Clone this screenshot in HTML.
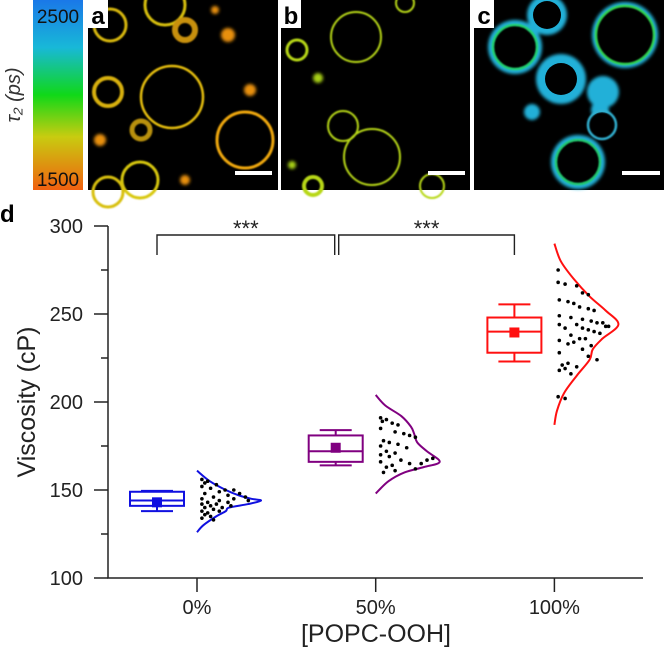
<!DOCTYPE html>
<html><head><meta charset="utf-8">
<style>
body{margin:0;background:#fff;width:664px;height:648px;overflow:hidden;font-family:"Liberation Sans",Arial,sans-serif}
svg text{font-family:"Liberation Sans",Arial,sans-serif}
</style></head><body>
<svg id="fig" width="664" height="648" viewBox="0 0 664 648" xmlns="http://www.w3.org/2000/svg">
<defs>
<linearGradient id="cb" x1="0" y1="0" x2="0" y2="1">
<stop offset="0" stop-color="#1a78e8"/><stop offset="0.25" stop-color="#18b8d8"/>
<stop offset="0.5" stop-color="#10d818"/><stop offset="0.72" stop-color="#c8cc10"/>
<stop offset="1" stop-color="#f06010"/></linearGradient>
<filter id="bl"><feGaussianBlur stdDeviation="0.8"/></filter>
<filter id="bl2"><feGaussianBlur stdDeviation="1.5"/></filter>
</defs>
<g>
<rect x="33" y="0" width="50" height="190" fill="url(#cb)"/>
<text x="58" y="23" font-size="19" text-anchor="middle" fill="#111">2500</text>
<text x="58" y="186" font-size="19" text-anchor="middle" fill="#111">1500</text>
<text transform="translate(20,95) rotate(-90)" font-size="20" text-anchor="middle" font-family="Liberation Serif" font-style="italic" fill="#333">τ₂ (ps)</text>
</g>
<g>
<rect x="88" y="0" width="190" height="190" fill="#000"/>
<g fill="none" filter="url(#bl)" stroke-width="3">
<circle cx="172" cy="97" r="31" stroke="#e8c010" stroke-width="2.5"/>
<circle cx="245" cy="140" r="28" stroke="#f0a810"/>
<circle cx="165" cy="5" r="20" stroke="#d8c010"/>
<circle cx="110" cy="25" r="16" stroke="#d8b810"/>
<circle cx="108" cy="92" r="14" stroke="#d8b010" stroke-width="4"/>
<circle cx="140" cy="180" r="18" stroke="#d8c810"/>
<circle cx="108" cy="192" r="15" stroke="#d8c010"/>
<circle cx="141" cy="130" r="9" stroke="#b89010" stroke-width="5"/>
<circle cx="185" cy="30" r="10" stroke="#c89010" stroke-width="6"/>
</g>
<g filter="url(#bl2)" fill="#e89010"><circle cx="228" cy="35" r="7"/><circle cx="250" cy="90" r="6"/><circle cx="100" cy="140" r="6"/><circle cx="215" cy="10" r="4"/><circle cx="185" cy="180" r="5"/></g>
<rect x="88" y="0" width="20" height="28" fill="#fff"/>
<text x="98" y="24" font-size="24" font-weight="bold" text-anchor="middle">a</text>
<rect x="235" y="171" width="37" height="4" fill="#fff"/>
</g>
<g>
<rect x="281" y="0" width="189" height="190" fill="#000"/>
<g fill="none" filter="url(#bl)" stroke="#b8d818" stroke-width="2">
<circle cx="356" cy="37" r="25"/><circle cx="372" cy="157" r="28"/>
<circle cx="343" cy="126" r="15"/><circle cx="297" cy="50" r="10" stroke-width="3"/>
<circle cx="313" cy="186" r="9" stroke-width="4"/><circle cx="432" cy="186" r="12"/>
<circle cx="405" cy="3" r="9"/></g>
<g filter="url(#bl2)" fill="#a8d018"><circle cx="318" cy="78" r="5"/><circle cx="292" cy="165" r="4"/></g>
<rect x="281" y="0" width="20" height="28" fill="#fff"/>
<text x="291" y="24" font-size="24" font-weight="bold" text-anchor="middle">b</text>
<rect x="428" y="171" width="37" height="4" fill="#fff"/>
</g>
<g>
<rect x="474" y="0" width="190" height="190" fill="#000"/>
<g filter="url(#bl2)" fill="#20b0d8"><circle cx="603" cy="92" r="16"/><circle cx="561" cy="79" r="25"/><circle cx="515" cy="47" r="27"/><circle cx="578" cy="162" r="27"/><circle cx="547" cy="15" r="20"/><circle cx="625" cy="35" r="33"/><circle cx="532" cy="112" r="8"/><circle cx="600" cy="110" r="9"/></g>
<g fill="#000"><circle cx="515" cy="47" r="22"/><circle cx="561" cy="79" r="16"/><circle cx="578" cy="162" r="22"/><circle cx="625" cy="35" r="29"/><circle cx="547" cy="15" r="14"/><circle cx="602" cy="125" r="13"/></g>
<g fill="none" filter="url(#bl)" stroke-width="2.5">
<circle cx="515" cy="47" r="22" stroke="#20d070"/><circle cx="625" cy="35" r="29" stroke="#30d050"/>
<circle cx="578" cy="162" r="22" stroke="#20c870"/><circle cx="602" cy="125" r="14" stroke="#30b0d0"/></g>
<rect x="474" y="0" width="20" height="28" fill="#fff"/>
<text x="484" y="24" font-size="24" font-weight="bold" text-anchor="middle">c</text>
<rect x="622" y="171" width="38" height="4" fill="#fff"/>
</g>
<text x="0" y="222" font-size="24" font-weight="bold">d</text>
<g id="chart"></g>
</svg>
<script>
const categories = ["0%", "50%", "100%"];
const colors = ["#1010e0", "#800080", "#ff1010"];
const yTicks = [100, 150, 200, 250, 300];
const whiskerLow = [138, 164, 223];
const boxLow = [141, 166, 228];
const medians = [144, 172, 240];
const boxHigh = [149, 181, 248];
const whiskerHigh = [149.5, 184, 255.5];
const means = [143, 174, 239.5];
const dens0Vals = [161,155,150,147,145,144,142,140,138,135,130,126];
const dens0W = [0,0.2,0.45,0.65,0.85,1.0,0.8,0.5,0.45,0.3,0.1,0];
const dens1Vals = [204,198,192,186,182,177,172,166,163,160,155,148];
const dens1W = [0,0.15,0.4,0.55,0.6,0.65,0.8,1.0,0.75,0.45,0.2,0];
const dens2Vals = [290,280,270,260,252,244,236,230,224,215,205,195,187];
const dens2W = [0,0.1,0.3,0.55,0.8,1.0,0.75,0.6,0.55,0.35,0.15,0.04,0];
const dots0Vals = [156,155,154,153,152,151,150,150,149,148,148,147,146,146,145,145,144,144,143,143,142,142,141,141,140,140,139,138,138,137,136,135,134,133];
const dots0J = [0.05,0.15,0.1,0.3,0.05,0.2,0.45,0.6,0.35,0.1,0.7,0.5,0.25,0.8,0.05,0.6,0.35,0.85,0.15,0.5,0.05,0.3,0.2,0.55,0.1,0.4,0.25,0.05,0.35,0.15,0.1,0.2,0.05,0.25];
const dots1Vals = [191,190,189,188,187,185,183,182,181,180,178,177,176,175,174,172,171,170,169,168,167,167,166,165,165,164,163,162,161,160];
const dots1J = [0.05,0.15,0.08,0.25,0.35,0.05,0.3,0.45,0.55,0.65,0.1,0.2,0.35,0.05,0.5,0.15,0.3,0.05,0.2,0.95,0.4,0.85,0.05,0.55,0.75,0.25,0.15,0.65,0.3,0.1];
const dots2Vals = [275,268,267,266,262,261,258,257,256,254,253,252,249,248,247,246,245,245,244,244,243,243,242,242,241,240,239,238,236,236,235,234,233,232,230,228,226,224,222,221,220,219,218,216,203,202];
const dots2J = [0.03,0.03,0.15,0.35,0.45,0.55,0.05,0.2,0.3,0.4,0.55,0.65,0.05,0.25,0.45,0.6,0.7,0.8,0.05,0.35,0.85,0.9,0.15,0.45,0.55,0.65,0.75,0.25,0.4,0.5,0.05,0.3,0.2,0.6,0.45,0.05,0.55,0.7,0.2,0.1,0.35,0.15,0.05,0.25,0.03,0.15];

const densVals = [dens0Vals, dens1Vals, dens2Vals];
const densW = [dens0W, dens1W, dens2W];
const dotVals = [dots0Vals, dots1Vals, dots2Vals];
const dotJ = [dots0J, dots1J, dots2J];

const NS = "http://www.w3.org/2000/svg";
const g = document.getElementById("chart");
const X0 = 108, X1 = 643, Y0 = 578, Y1 = 226;
const yScale = v => Y0 - (v - 100) / 200 * (Y0 - Y1);
const xCat = i => 197 + i * 178.7;
function mk(tag, attrs, parent) {
  const e = document.createElementNS(NS, tag);
  for (const k in attrs) e.setAttribute(k, attrs[k]);
  (parent || g).appendChild(e);
  return e;
}
const ax = mk("path", {d: `M${X0},${Y1} V${Y0} H${X1}`, fill: "none", stroke: "#222", "stroke-width": 1.5});


yTicks.forEach(v => {
  const y = yScale(v);
  const t = mk("line", {x1: X0 - 14, x2: X0, y1: y, y2: y, stroke: "#222", "stroke-width": 1.5});
  
  
  const l = mk("text", {x: 83, y: y + 7, "font-size": 20, "text-anchor": "end", fill: "#222"});
  l.textContent = v;
  
  
  if (v < 300) {
    const m = mk("line", {x1: X0 - 7, x2: X0, y1: yScale(v + 25), y2: yScale(v + 25), stroke: "#222", "stroke-width": 1.5});
    
    
  }
});
categories.forEach((c, i) => {
  const x = xCat(i);
  const t = mk("line", {x1: x, x2: x, y1: Y0, y2: Y0 + 14, stroke: "#222", "stroke-width": 1.5});
  
  
  const l = mk("text", {x: x, y: Y0 + 36, "font-size": 20, "text-anchor": "middle", fill: "#222"});
  l.textContent = c;
  
  
});
const yt = mk("text", {transform: "translate(35,402) rotate(-90)", "font-size": 25, "text-anchor": "middle", fill: "#222"});
yt.textContent = "Viscosity (cP)";


const xt = mk("text", {x: 376, y: 642, "font-size": 25, "text-anchor": "middle", fill: "#222"});
xt.textContent = "[POPC-OOH]";



function smooth(pts) {
  let d = `M${pts[0][0]},${pts[0][1]}`;
  for (let i = 0; i < pts.length - 1; i++) {
    const p0 = pts[Math.max(0, i - 1)], p1 = pts[i], p2 = pts[i + 1], p3 = pts[Math.min(pts.length - 1, i + 2)];
    const c1 = [p1[0] + (p2[0] - p0[0]) / 6, p1[1] + (p2[1] - p0[1]) / 6];
    const c2 = [p2[0] - (p3[0] - p1[0]) / 6, p2[1] - (p3[1] - p1[1]) / 6];
    d += ` C${c1[0]},${c1[1]} ${c2[0]},${c2[1]} ${p2[0]},${p2[1]}`;
  }
  return d;
}
categories.forEach((c, i) => {
  const col = colors[i];
  const cx = xCat(i) - 40, hw = 27;
  const grp = mk("g", {});
  
  
  const sw = {stroke: col, "stroke-width": 2, fill: "none"};
  mk("line", Object.assign({x1: cx, x2: cx, y1: yScale(whiskerHigh[i]), y2: yScale(boxHigh[i])}, sw), grp);
  mk("line", Object.assign({x1: cx, x2: cx, y1: yScale(boxLow[i]), y2: yScale(whiskerLow[i])}, sw), grp);
  mk("line", Object.assign({x1: cx - 16, x2: cx + 16, y1: yScale(whiskerHigh[i]), y2: yScale(whiskerHigh[i])}, sw), grp);
  mk("line", Object.assign({x1: cx - 16, x2: cx + 16, y1: yScale(whiskerLow[i]), y2: yScale(whiskerLow[i])}, sw), grp);
  mk("rect", Object.assign({x: cx - hw, y: yScale(boxHigh[i]), width: 2 * hw, height: yScale(boxLow[i]) - yScale(boxHigh[i])}, sw), grp);
  mk("line", Object.assign({x1: cx - hw, x2: cx + hw, y1: yScale(medians[i]), y2: yScale(medians[i])}, sw), grp);
  const mm = mk("rect", {x: cx - 5, y: yScale(means[i]) - 5, width: 10, height: 10, fill: col}, grp);
  
  
  const bx = xCat(i);
  const pts = densVals[i].map((v, k) => [bx + densW[i][k] * 64, yScale(v)]);
  const dp = mk("path", {d: smooth(pts), fill: "none", stroke: col, "stroke-width": 2});
  
  
  dotVals[i].forEach((v, k) => {
    const d = mk("circle", {cx: bx + 2 + dotJ[i][k] * 58, cy: yScale(v), r: 1.8, fill: "#000"});
    
    
  });
});
function bracket(xa, xb, name) {
  const y = 235;
  const p = mk("path", {d: `M${xa},255 V${y} H${xb} V255`, fill: "none", stroke: "#222", "stroke-width": 1.4});
  
  
  const s = mk("text", {x: (xa + xb) / 2, y: 236, "font-size": 22, "text-anchor": "middle", fill: "#222"});
  s.textContent = "***";
  
  
}
bracket(xCat(0) - 40, xCat(1) - 41, 'significance-bracket-1');
bracket(xCat(1) - 37, xCat(2) - 40, 'significance-bracket-2');
</script>
</body></html>
